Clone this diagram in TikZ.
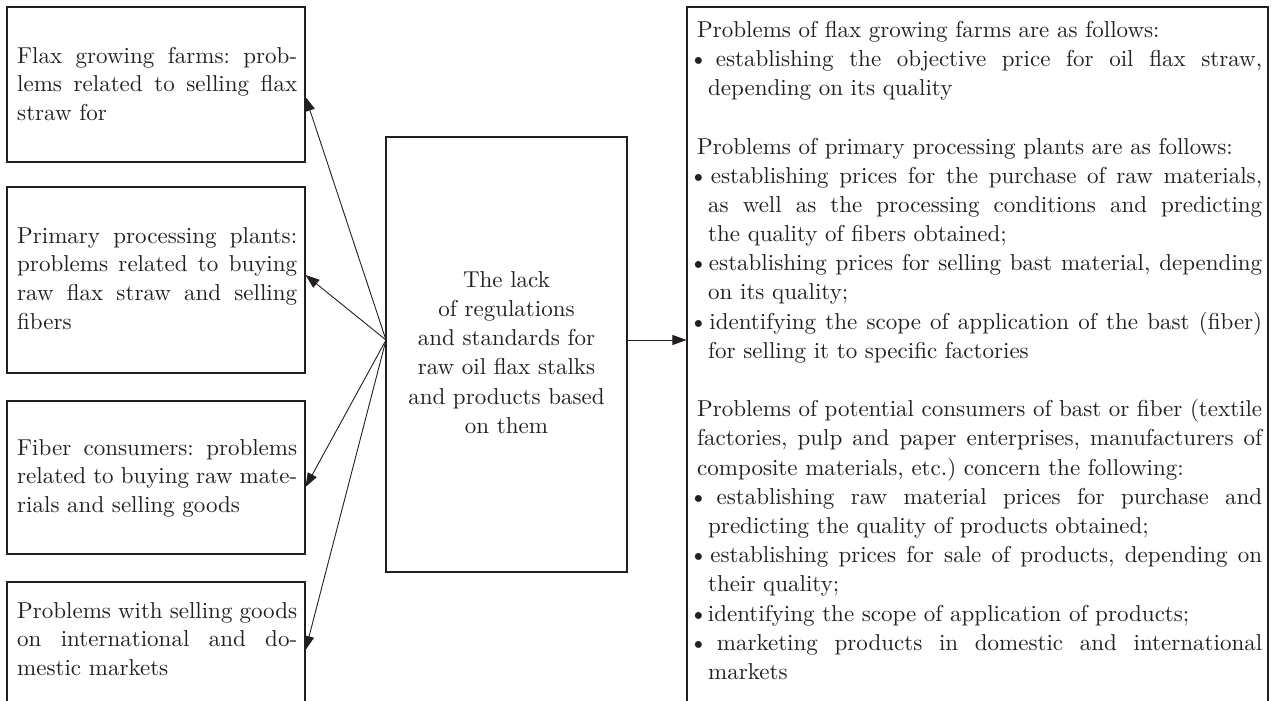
\documentclass[tikz,border=0pt]{standalone}
\usepackage{fontspec}
\setmainfont{lmroman10-regular.otf}
\usetikzlibrary{arrows.meta}
\definecolor{ink}{RGB}{35,31,32}
\setlength{\parindent}{0pt}
\frenchspacing
\newcommand{\jl}[2][569pt]{\makebox[#1][s]{\spaceskip=0pt\xspaceskip=0pt\relax#2}}
\newcommand{\bul}{\hspace*{-4pt}\makebox[11pt][l]{\fontsize{24}{24}\selectfont\textbullet}\ }
\newcommand{\cont}{\hspace*{15pt}}
\newcommand{\pin}{\hspace*{4pt}}
\newcommand{\fst}{\rule{0pt}{20pt}}
\begin{document}
\begin{tikzpicture}[x=1pt,y=-1pt,
  box/.style={draw=ink, line width=1.1pt, inner sep=0pt, rectangle},
  txt/.style={inner sep=0pt, align=left, text=ink, font=\fontsize{23}{29.2}\selectfont},
  ltxt/.style={inner sep=0pt, align=left, text=ink, text width=280pt, anchor=north west, font=\fontsize{23}{28.6}\selectfont},
  arr/.style={draw=ink, line width=0.9pt, -{Triangle[length=14pt,width=10pt]}}]
\useasboundingbox (0,0) rectangle (1272,701);
\clip (0,0) rectangle (1272,701);
% boxes
\node[box, minimum width=298pt, minimum height=155pt] (b1) at (156,84.5) {};
\node[box, minimum width=298pt, minimum height=186pt] (b2) at (156,280) {};
\node[box, minimum width=298pt, minimum height=153pt] (b3) at (156,477.5) {};
\node[box, minimum width=298pt, minimum height=128pt] (b4) at (156,646) {};
\node[box, minimum width=241pt, minimum height=435pt] (c) at (506.5,354.5) {};
\node[box, minimum width=581pt, minimum height=703pt] (r) at (977.5,358.5) {};
% texts
\node[ltxt] (b1t) at (17,43) {\fst\jl[280pt]{Flax growing farms: prob-}\\
\jl[280pt]{lems related to selling flax}\\
straw for};
\node[ltxt] (b2t) at (17,223) {\fst\jl[280pt]{Primary processing plants:}\\
\jl[280pt]{problems related to buying}\\
\jl[280pt]{raw flax straw and selling}\\
fibers};
\node[ltxt] (b3t) at (17,435) {\fst\jl[280pt]{Fiber consumers: problems}\\
\jl[280pt]{related to buying raw mate-}\\
rials and selling goods};
\node[ltxt] (b4t) at (17,598) {\fst\jl[280pt]{Problems with selling goods}\\
\jl[280pt]{on international and do-}\\
mestic markets};
\node[txt, align=center, text width=241pt, anchor=north] (ct) at (506.5,267) {\fst The lack\\
of regulations\\
and standards for\\
raw oil flax stalks\\
and products based\\
on them};
\node[txt, text width=569pt, anchor=north west] (rt) at (693,17) {%
\fst\pin Problems of flax growing farms are as follows:\\
\jl{\bul establishing the objective price for oil flax straw,}\\
\cont depending on its quality\\
\mbox{}\\
\pin Problems of primary processing plants are as follows:\\
\jl{\bul establishing prices for the purchase of raw materials,}\\
\jl{\cont as well as the processing conditions and predicting}\\
\cont the quality of fibers obtained;\\
\jl{\bul establishing prices for selling bast material, depending}\\
\cont on its quality;\\
\jl{\bul identifying the scope of application of the bast (fiber)}\\
\cont for selling it to specific factories\\
\mbox{}\\
\jl{\pin Problems of potential consumers of bast or fiber (textile}\\
\jl{\pin factories, pulp and paper enterprises, manufacturers of}\\
\pin composite materials, etc.) concern the following:\\
\jl{\bul establishing raw material prices for purchase and}\\
\cont predicting the quality of products obtained;\\
\jl{\bul establishing prices for sale of products, depending on}\\
\cont their quality;\\
\bul identifying the scope of application of products;\\
\jl{\bul marketing products in domestic and international}\\
\cont markets};
% connectors
\coordinate (o) at (386,340);
\coordinate (y1) at (0,97);
\coordinate (y2) at (0,275);
\coordinate (y3) at (0,487);
\coordinate (y4) at (0,650);
\draw[arr] (o) -- (b1.east |- y1);
\draw[arr] (o) -- (b2.east |- y2);
\draw[arr] (o) -- (b3.east |- y3);
\draw[arr] (o) -- (b4.east |- y4);
\draw[arr] (c.east |- o) -- (r.west |- o);
\end{tikzpicture}
\end{document}
